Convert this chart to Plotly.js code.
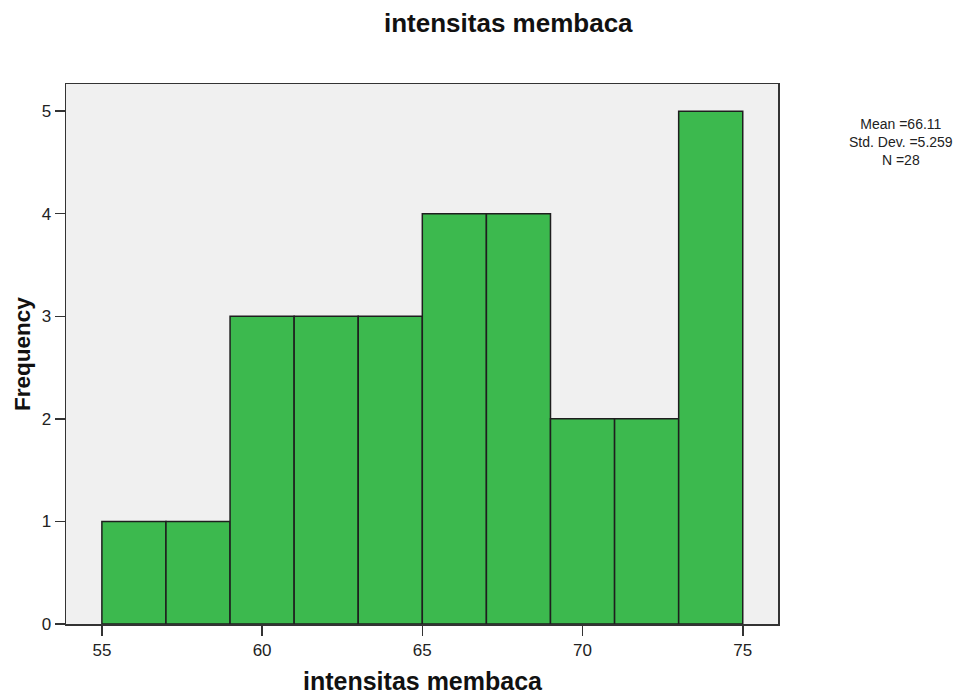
<!DOCTYPE html>
<html>
<head>
<meta charset="utf-8">
<script src="https://cdn.plot.ly/plotly-3.0.1.min.js"></script>
<style>html,body{margin:0;padding:0;background:#fff;}#chart{width:974px;height:694px;}</style>
</head>
<body>
<div id="chart"></div>
<script>
// Histogram bins (lower edges), bin width and frequencies
var binStarts = [55, 57, 59, 61, 63, 65, 67, 69, 71, 73];
var binWidth = 2;
var frequencies = [1, 1, 3, 3, 3, 4, 4, 2, 2, 5];
var xTicks = [55, 60, 65, 70, 75];
var yTicks = [0, 1, 2, 3, 4, 5];
var statsLines = ["Mean =66.11", "Std. Dev. =5.259", "N =28"];
var chartTitle = "intensitas membaca";
var xTitle = "intensitas membaca";
var yTitle = "Frequency";

var centers = binStarts.map(function (s) { return s + binWidth / 2; });

var trace = {
  type: 'bar',
  x: centers,
  y: frequencies,
  width: binWidth,
  marker: { color: '#3cb94e', line: { color: '#1e1e1e', width: 1.5 } },
  hoverinfo: 'x+y'
};

var font = "'Liberation Sans', Arial, sans-serif";
var annotations = [
  { text: '<b>' + chartTitle + '</b>', xref: 'paper', yref: 'paper', x: 0.6208, y: 1.113, xanchor: 'center', yanchor: 'middle', showarrow: false, font: { family: font, size: 26, color: '#111' } },
  { text: '<b>' + xTitle + '</b>', xref: 'paper', yref: 'paper', x: 0.5014, y: -0.1056, xanchor: 'center', yanchor: 'middle', showarrow: false, font: { family: font, size: 25, color: '#111' } },
  { text: '<b>' + yTitle + '</b>', xref: 'paper', yref: 'paper', x: -0.0618, y: 0.5, xanchor: 'center', yanchor: 'middle', textangle: -90, showarrow: false, font: { family: font, size: 22.5, color: '#111' } },
  { text: statsLines.join('<br>'), xref: 'paper', yref: 'paper', x: 1.1728, y: 0.8935, xanchor: 'center', yanchor: 'middle', align: 'center', showarrow: false, font: { family: font, size: 14, color: '#222' } }
];

var layout = {
  width: 974, height: 694,
  margin: { l: 66, r: 196, t: 84, b: 70 },
  paper_bgcolor: '#ffffff',
  plot_bgcolor: '#f0f0f0',
  showlegend: false,
  bargap: 0,
  font: { family: font, size: 16, color: '#222' },
  xaxis: {
    range: [53.88, 76.1],
    tickmode: 'array', tickvals: xTicks, ticktext: xTicks.map(String),
    ticks: 'outside', ticklen: 10, tickwidth: 1.5, tickcolor: '#333',
    showgrid: false, zeroline: false,
    showline: true, mirror: true, linecolor: '#333', linewidth: 1.5,
    tickfont: { family: font, size: 17, color: '#222' }
  },
  yaxis: {
    range: [0, 5.265],
    tickmode: 'array', tickvals: yTicks, ticktext: yTicks.map(String),
    ticks: 'outside', ticklen: 10, tickwidth: 1.5, tickcolor: '#333',
    showgrid: false, zeroline: false,
    showline: true, mirror: true, linecolor: '#333', linewidth: 1.5,
    tickfont: { family: font, size: 17, color: '#222' }
  },
  annotations: annotations
};

Plotly.newPlot('chart', [trace], layout, { displayModeBar: false, staticPlot: true });
</script>
</body>
</html>
